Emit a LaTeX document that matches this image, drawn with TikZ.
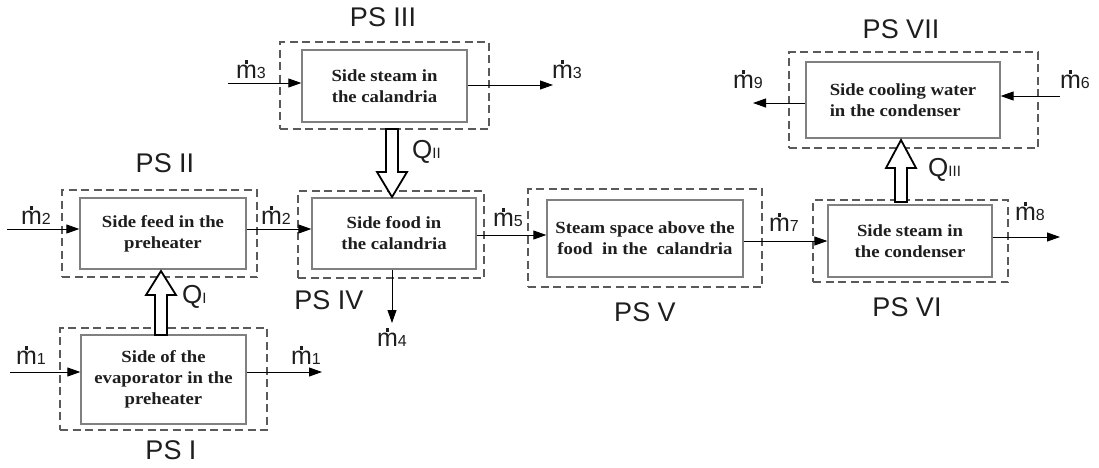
\documentclass[tikz,border=0pt]{standalone}
\usepackage{fontspec}
\setmainfont{Liberation Serif}
\newfontfamily\boxfont[FakeStretch=1.1]{Liberation Serif}
\newfontfamily\sansf{Liberation Sans}
\usetikzlibrary{arrows.meta}
\definecolor{boxgray}{HTML}{808080}
\definecolor{dashgray}{HTML}{5A5A5A}
\definecolor{ink}{HTML}{1E1E1E}
\newcommand\mdt[1]{\ooalign{m\cr\hfil\raisebox{0.6em}{\rule{0.09em}{0.13em}}\hfil\cr}{\fontsize{16}{16}\selectfont #1}}
\newcommand\qsub[1]{Q{\fontsize{15}{15}\selectfont #1}}
\tikzset{
  blk/.style={draw=boxgray, line width=1.3pt, inner sep=0pt, text=ink,
    font=\boxfont\bfseries\fontsize{17}{21}\selectfont, align=center},
  psbox/.style={draw=dashgray, line width=1.4pt, dash pattern=on 8pt off 4.5pt, inner sep=0pt},
  flow/.style={draw=black, line width=0.9pt, -{Triangle[length=13pt,width=9pt]}},
  harrow/.style={draw=black, line width=1.8pt, fill=white, line join=miter},
  mlab/.style={font=\sansf\fontsize{25}{25}\selectfont, inner sep=0pt, text=ink},
  pslab/.style={font=\sansf\fontsize{27}{27}\selectfont, inner sep=0pt, text=ink},
  qlab/.style={font=\sansf\fontsize{26}{26}\selectfont, inner sep=0pt, anchor=west, text=ink},
}
\begin{document}
\begin{tikzpicture}[x=1pt,y=-1pt]
\useasboundingbox[fill=white] (0,0) rectangle (1099,467);
% dashed subsystem boxes
\node[psbox, minimum width=207, minimum height=102] (d1) at (163.5,379) {};
\node[psbox, minimum width=195, minimum height=87]  (d2) at (159.5,233.5) {};
\node[psbox, minimum width=209, minimum height=87]  (d3) at (384.5,85.5) {};
\node[psbox, minimum width=186, minimum height=87]  (d4) at (391,234.5) {};
\node[psbox, minimum width=234, minimum height=98]  (d5) at (645,238) {};
\node[psbox, minimum width=195, minimum height=82]  (d6) at (910.5,241) {};
\node[psbox, minimum width=249, minimum height=96]  (d7) at (913.5,100) {};
% solid blocks
\node[blk, minimum width=165, minimum height=89] (b1) at (163.5,379.5) {Side of the\\evaporator in the\\preheater};
\node[blk, minimum width=166, minimum height=71] (b2) at (163,233.5) {Side feed in the\\preheater};
\node[blk, minimum width=165, minimum height=72] (b3) at (384.5,86) {Side steam in\\the calandria};
\node[blk, minimum width=164, minimum height=71] (b4) at (394,233.5) {Side food in\\the calandria};
\node[blk, minimum width=196, minimum height=77] (b5) at (645,238.5) {Steam space above the\\food \ in the \ calandria};
\node[blk, minimum width=194, minimum height=76, align=left] (b7) at (903,100) {Side cooling water\\in the condenser};
\node[blk, minimum width=164, minimum height=72] (b6) at (910,241) {Side steam in\\the condenser};
% PS labels
\node[pslab] (l1) at (171,450) {PS I};
\node[pslab] (l2) at (165,163) {PS II};
\node[pslab] (l3) at (383,17) {PS III};
\node[pslab] (l4) at (329,300) {PS IV};
\node[pslab] (l5) at (645,312) {PS V};
\node[pslab] (l6) at (907,307) {PS VI};
\node[pslab] (l7) at (901,29) {PS VII};
% free ends
\coordinate (m1in) at (10,372);
\coordinate (m1out) at (322,372);
\coordinate (m2in) at (7,229);
\coordinate (m3in) at (228,83);
\coordinate (m3out) at (553,85);
\coordinate (m4e) at (392,323);
\coordinate (m5y) at (500,235);
\coordinate (m7y) at (780,241);
\coordinate (m8out) at (1060,237);
\coordinate (m6in) at (1060,96);
\coordinate (m9out) at (753,103);
% mass flows
\draw[flow] (m1in) -- (m1in -| b1.west);
\draw[flow] (b1.east |- m1out) -- (m1out);
\draw[flow] (m2in) -- (m2in -| b2.west);
\draw[flow] (b2.east |- m2in) -- (b4.west |- m2in);
\draw[flow] (m3in) -- (m3in -| b3.west);
\draw[flow] (b3.east |- m3out) -- (m3out);
\draw[flow] (b4.south -| m4e) -- (m4e);
\draw[flow] (b4.east |- m5y) -- (b5.west |- m5y);
\draw[flow] (b5.east |- m7y) -- (b6.west |- m7y);
\draw[flow] (b6.east |- m8out) -- (m8out);
\draw[flow] (m6in) -- (m6in -| b7.east);
\draw[flow] (b7.west |- m9out) -- (m9out);
% flow labels
\node[mlab] (t1a) at (31,358) {\mdt{1}};
\node[mlab] (t1b) at (306,358) {\mdt{1}};
\node[mlab] (t2a) at (36,218) {\mdt{2}};
\node[mlab] (t2b) at (276,218) {\mdt{2}};
\node[mlab] (t3a) at (251,72) {\mdt{3}};
\node[mlab] (t3b) at (567,72) {\mdt{3}};
\node[mlab] (t4) at (392,340) {\mdt{4}};
\node[mlab] (t5) at (508,220) {\mdt{5}};
\node[mlab] (t7) at (784,225) {\mdt{7}};
\node[mlab] (t8) at (1030,214) {\mdt{8}};
\node[mlab] (t6) at (1075,82) {\mdt{6}};
\node[mlab] (t9) at (748,82) {\mdt{9}};
% heat flows (hollow arrows)
\coordinate (qIs) at (161,335);
\coordinate (qIh) at (161,295);
\coordinate (qIt) at (161,271);
\draw[harrow] ([xshift=-6pt]qIs) -- ([xshift=-6pt]qIh) -- ([xshift=-15pt]qIh) -- (qIt)
  -- ([xshift=15pt]qIh) -- ([xshift=6pt]qIh) -- ([xshift=6pt]qIs) -- cycle;
\coordinate (qIIs) at (392,129);
\coordinate (qIIh) at (392,172);
\coordinate (qIIt) at (392,197);
\draw[harrow] ([xshift=-6pt]qIIs) -- ([xshift=-6pt]qIIh) -- ([xshift=-15pt]qIIh) -- (qIIt)
  -- ([xshift=15pt]qIIh) -- ([xshift=6pt]qIIh) -- ([xshift=6pt]qIIs) -- cycle;
\coordinate (qIIIs) at (901,202);
\coordinate (qIIIh) at (901,168);
\coordinate (qIIIt) at (901,140);
\draw[harrow] ([xshift=-6pt]qIIIs) -- ([xshift=-6pt]qIIIh) -- ([xshift=-15pt]qIIIh) -- (qIIIt)
  -- ([xshift=15pt]qIIIh) -- ([xshift=6pt]qIIIh) -- ([xshift=6pt]qIIIs) -- cycle;
\node[qlab] (q1) at (182,297) {\qsub{I}};
\node[qlab] (q2) at (412,152) {\qsub{II}};
\node[qlab] (q3) at (928,170) {\qsub{III}};
\end{tikzpicture}
\end{document}
